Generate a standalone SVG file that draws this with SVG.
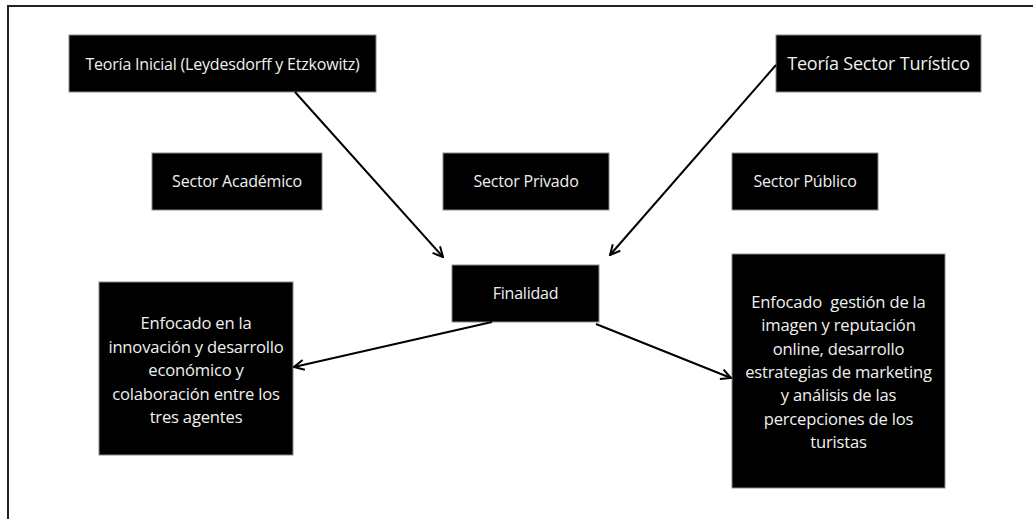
<svg xmlns="http://www.w3.org/2000/svg" width="1033" height="519" viewBox="0 0 1033 519">
<style>
.box{fill:#000;stroke:#8a8a8a;stroke-width:1}
.t{font-family:"Open Sans","Noto Sans","Liberation Sans",sans-serif;fill:#f0f0f0;text-anchor:middle;font-weight:500;letter-spacing:-0.2px}
.s16{font-size:16px}
.s18{font-size:18px}
.s17{font-size:16.6px}
.c{stroke:#000;stroke-width:2;fill:none}
</style>
<defs>
<marker id="ah" viewBox="0 0 12 12" refX="11" refY="6" markerWidth="12" markerHeight="12" markerUnits="userSpaceOnUse" orient="auto">
<path d="M1,1 L11,6 L1,11" fill="none" stroke="#000" stroke-width="2"/>
</marker>
</defs>
<rect width="1033" height="519" fill="#fff"/>
<path d="M8,519 L8,6 L1033,6" fill="none" stroke="#222" stroke-width="2"/>
<g id="n_teoria_inicial"><rect class="box" x="69" y="35" width="307" height="57"/><text class="t s16" x="222.5" y="69.5">Teoría Inicial (Leydesdorff y Etzkowitz)</text></g>
<g id="n_teoria_turistico"><rect class="box" x="776" y="35" width="205" height="57"/><text class="t s18" x="878.5" y="70">Teoría Sector Turístico</text></g>
<g id="n_academico"><rect class="box" x="152" y="153" width="170" height="57"/><text class="t s16" x="237" y="187">Sector Académico</text></g>
<g id="n_privado"><rect class="box" x="443" y="153" width="166" height="57"/><text class="t s16" x="526" y="187">Sector Privado</text></g>
<g id="n_publico"><rect class="box" x="732" y="153" width="146" height="57"/><text class="t s16" x="805" y="187">Sector Público</text></g>
<g id="n_finalidad"><rect class="box" x="452" y="265" width="147" height="57"/><text class="t s16" x="525.5" y="299">Finalidad</text></g>
<g id="n_izq"><rect class="box" x="99" y="282" width="194" height="173"/>
<text class="t s17" x="196" y="329">Enfocado en la</text>
<text class="t s17" x="196" y="352.5">innovación y desarrollo</text>
<text class="t s17" x="196" y="376">económico y</text>
<text class="t s17" x="196" y="399.5">colaboración entre los</text>
<text class="t s17" x="196" y="423">tres agentes</text></g>
<g id="n_der"><rect class="box" x="732" y="254" width="213" height="234"/>
<text class="t s17" x="838.5" y="308" xml:space="preserve">Enfocado  gestión de la</text>
<text class="t s17" x="838.5" y="331.3">imagen y reputación</text>
<text class="t s17" x="838.5" y="354.6">online, desarrollo</text>
<text class="t s17" x="838.5" y="378">estrategias de marketing</text>
<text class="t s17" x="838.5" y="401.3">y análisis de las</text>
<text class="t s17" x="838.5" y="424.6">percepciones de los</text>
<text class="t s17" x="838.5" y="448">turistas</text></g>
<g id="connectors">
<line class="c" x1="295" y1="92" x2="443" y2="257" marker-end="url(#ah)"/>
<line class="c" x1="776" y1="65" x2="610" y2="255" marker-end="url(#ah)"/>
<line class="c" x1="492" y1="322" x2="294" y2="367" marker-end="url(#ah)"/>
<line class="c" x1="596" y1="324" x2="731" y2="378" marker-end="url(#ah)"/>
</g>
</svg>
